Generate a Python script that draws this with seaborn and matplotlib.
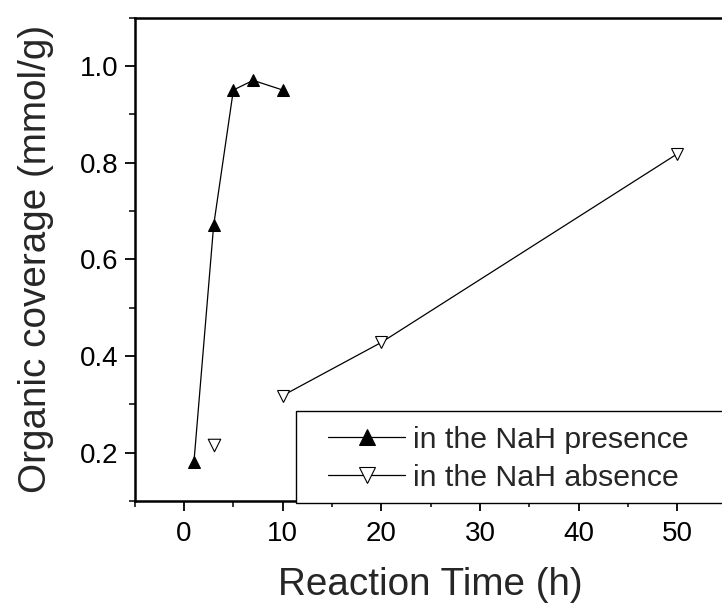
import matplotlib
matplotlib.use("Agg")
import matplotlib.pyplot as plt
from matplotlib.ticker import MultipleLocator, FormatStrFormatter
from matplotlib.patches import Rectangle
import seaborn as sns
import pandas as pd

presence_x = [1, 3, 5, 7, 10]
presence_y = [0.18, 0.67, 0.95, 0.97, 0.95]
absence_x = [3, 10, 20, 50]
absence_y = [0.215, 0.318, 0.428, 0.818]
labels = ["in the NaH presence", "in the NaH absence"]

sns.set_style("ticks")
plt.rcParams['font.family'] = ['Liberation Sans', 'DejaVu Sans']

fig = plt.figure(figsize=(7.22, 6.10), dpi=100)
ax = fig.add_axes([0.1866, 0.1787, 0.8198, 0.7926])

pres = pd.DataFrame({"t": presence_x, "c": presence_y})
absn = pd.DataFrame({"t": absence_x, "c": absence_y})

sns.lineplot(data=pres, x="t", y="c", ax=ax, color="black", lw=0.9,
             marker="^", markersize=9, markerfacecolor="black",
             markeredgecolor="black", label=labels[0])
sns.lineplot(data=absn.iloc[1:], x="t", y="c", ax=ax, color="black", lw=0.9,
             marker="v", markersize=9, markerfacecolor="white",
             markeredgecolor="black", markeredgewidth=0.8, label=labels[1])
sns.scatterplot(data=absn.iloc[:1], x="t", y="c", ax=ax, marker="v", s=81,
                facecolor="white", edgecolor="black", linewidth=0.8,
                legend=False, zorder=3)

ax.set_xlim(-5, 55)
ax.set_ylim(0.1, 1.1)
ax.xaxis.set_major_locator(MultipleLocator(10))
ax.xaxis.set_minor_locator(MultipleLocator(5))
ax.yaxis.set_major_locator(MultipleLocator(0.2))
ax.yaxis.set_minor_locator(MultipleLocator(0.1))
ax.yaxis.set_major_formatter(FormatStrFormatter('%.1f'))
ax.tick_params(which="major", length=7.5, width=1.3, labelsize=20, colors="black")
ax.tick_params(axis="x", which="major", pad=7)
ax.tick_params(axis="y", which="major", pad=4)
ax.tick_params(which="minor", length=4.5, width=1.3)
ax.tick_params(top=False, right=False, which="both")
for s in ax.spines.values():
    s.set_linewidth(1.8)
    s.set_color("black")

ax.set_xlabel("Reaction Time (h)", fontsize=27.8, labelpad=14)
ax.set_ylabel("Organic coverage (mmol/g)", fontsize=27.8, labelpad=19)

# legend frame box
ax.add_patch(Rectangle((0.2725, -0.004), 0.74, 0.19, transform=ax.transAxes,
                       facecolor="white", edgecolor="black", lw=1.0,
                       zorder=4, clip_on=False))
leg = ax.legend(loc="center left", bbox_to_anchor=(0.3266, 0.087), borderaxespad=0,
                fontsize=21.8, frameon=False, handlelength=2.55, markerscale=1.3,
                handletextpad=0.25, labelspacing=0.33, borderpad=0)
leg.set_zorder(5)

fig.savefig("out.png", dpi=100)
